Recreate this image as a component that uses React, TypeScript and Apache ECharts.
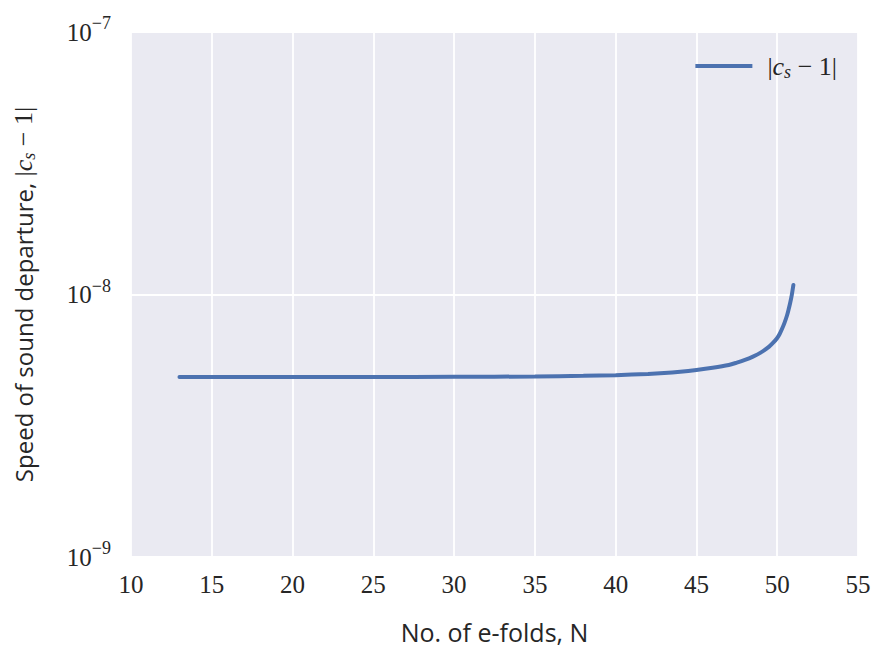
import React, { useEffect, useRef } from "react";
import * as echarts from "echarts";

const efolds = [
  13, 15, 20, 25, 30, 35, 38, 40, 42, 43, 44, 45, 46, 47, 47.5, 48, 48.5, 49, 49.5, 49.75, 50, 50.15, 50.3, 50.45,
  50.6, 50.7, 50.8, 50.9, 51,
];
const departure = [
  4.85e-9, 4.85e-9, 4.85e-9, 4.85e-9, 4.86e-9, 4.87e-9, 4.9e-9, 4.93e-9, 4.98e-9, 5.02e-9, 5.08e-9, 5.16e-9,
  5.26e-9, 5.39e-9, 5.5e-9, 5.63e-9, 5.8e-9, 6.02e-9, 6.33e-9, 6.55e-9, 6.83e-9, 7.07e-9, 7.4e-9, 7.8e-9,
  8.3e-9, 8.75e-9, 9.28e-9, 9.95e-9, 1.087e-8,
];
const xTicks = { min: 10, max: 55, interval: 5 };
const yRange = { min: 1e-9, max: 1e-7 };

const SERIF = "'Liberation Serif', 'DejaVu Serif', serif";
const SANS = "'Open Sans', 'DejaVu Sans', sans-serif";

export default function App() {
  const ref = useRef<HTMLDivElement>(null);
  useEffect(() => {
    if (!ref.current) return;
    const chart = echarts.init(ref.current, undefined, { renderer: "svg" });
    const mathRich = {
      t: { fontFamily: SERIF, fontSize: 26, color: "#262626" },
      i: { fontFamily: SERIF, fontSize: 26, fontStyle: "italic", color: "#262626" },
      sub: { fontFamily: SERIF, fontSize: 18, fontStyle: "italic", color: "#262626", padding: [11, 0, 0, 0] },
      n: { fontFamily: SANS, fontSize: 24, color: "#262626" },
    };
    chart.setOption({
      animation: false,
      backgroundColor: "#ffffff",
      grid: {
        left: 131,
        right: 34,
        top: 32,
        bottom: 99,
        show: true,
        backgroundColor: "#EAEAF2",
        borderWidth: 0,
      },
      legend: {
        right: 50,
        top: 48,
        itemWidth: 57,
        itemHeight: 4,
        itemGap: 10,
        icon: "rect",
        data: ["cs"],
        formatter: () => "{t||}{i|c}{sub|s}{t| − 1|}",
        textStyle: { rich: mathRich, padding: [0, 0, 0, 10] },
      },
      xAxis: {
        type: "value",
        min: xTicks.min,
        max: xTicks.max,
        interval: xTicks.interval,
        axisLine: { show: false },
        axisTick: { show: false },
        splitLine: { show: true, lineStyle: { color: "#ffffff", width: 1.8 } },
        axisLabel: { margin: 15, fontFamily: SERIF, fontSize: 25, color: "#262626" },
        name: "No. of e-folds, N",
        nameLocation: "middle",
        nameGap: 62,
        nameTextStyle: { fontFamily: SANS, fontSize: 25, color: "#262626" },
      },
      yAxis: {
        type: "log",
        logBase: 10,
        min: yRange.min,
        max: yRange.max,
        interval: 1,
        axisLine: { show: false },
        axisTick: { show: false },
        minorSplitLine: { show: false },
        splitLine: { show: true, lineStyle: { color: "#ffffff", width: 1.8 } },
        axisLabel: {
          margin: 20,
          formatter: (v: number) => {
            const e = Math.round(Math.log10(v));
            return `{b|10}{s|${e < 0 ? "−" + -e : e}}`;
          },
          rich: {
            b: { fontFamily: SERIF, fontSize: 25, color: "#262626" },
            s: { fontFamily: SERIF, fontSize: 18, color: "#262626", padding: [0, 0, 18, 0] },
          },
        },
        name: "{n|Speed of sound departure, }{t||}{i|c}{sub|s}{t| − 1|}",
        nameLocation: "middle",
        nameGap: 93,
        nameTextStyle: { rich: mathRich },
      },
      series: [
        {
          name: "cs",
          type: "line",
          data: efolds.map((x, k) => [x, departure[k]]),
          smooth: 0.3,
          symbol: "none",
          lineStyle: { color: "#4C72B0", width: 4, cap: "round" },
          itemStyle: { color: "#4C72B0" },
        },
      ],
    });
    return () => chart.dispose();
  }, []);
  return <div ref={ref} style={{ width: 892, height: 656, position: "absolute", left: 0, top: 0 }} />;
}
